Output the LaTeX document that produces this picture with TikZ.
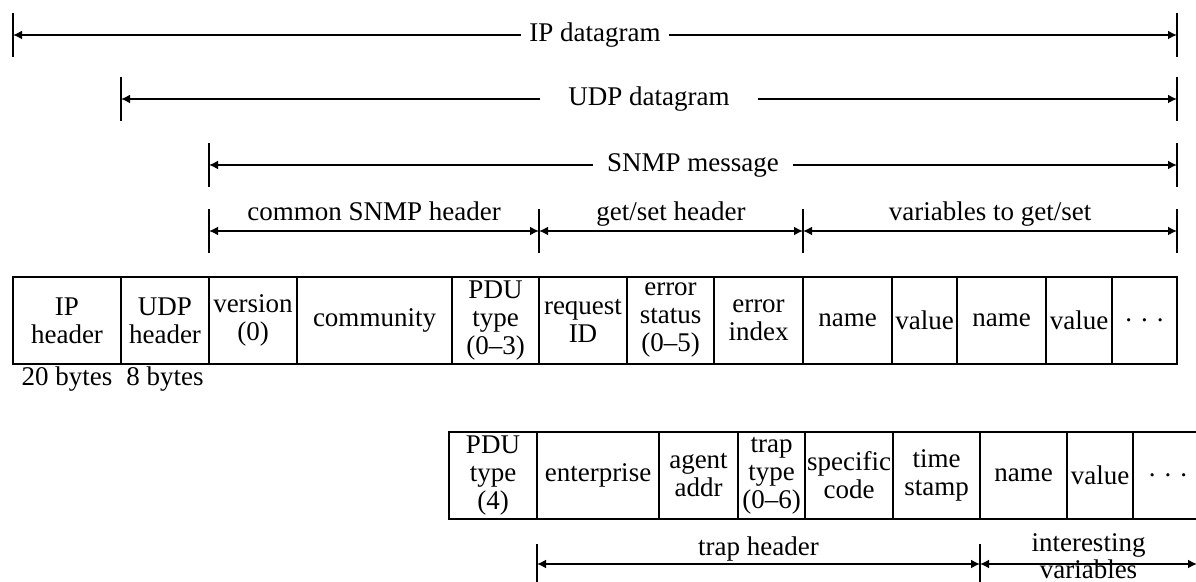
\documentclass[tikz,border=0pt]{standalone}
\usepackage{fontspec}
\setmainfont{Liberation Serif}
\usetikzlibrary{arrows.meta}
\begin{document}
\begin{tikzpicture}[x=0.5pt,y=-0.5pt,
  font=\fontsize{13.5}{14.5}\selectfont,
  field/.style={draw, line width=1pt, inner sep=0pt, outer sep=0pt, align=center,
    anchor=north west, minimum height=43.5pt, font=\fontsize{13.5}{14}\selectfont},
  dimline/.style={line width=0.9pt, {Latex[length=4.5pt,width=4.5pt]}-{Latex[length=4.5pt,width=4.5pt]}},
  endbar/.style={line width=1pt},
  lbl/.style={fill=white, inner xsep=4pt, inner ysep=1pt},
  toplbl/.style={midway, anchor=base, yshift=5pt, inner sep=0pt},
]
\useasboundingbox (0,0) rectangle (1196,582);
\clip (0,0) rectangle (1196,582);

% ---------- get/set PDU row ----------
\node[field, minimum width=54pt] (ip) at (13,277) {IP\\header};
\node[field, minimum width=44pt] (udp) at (ip.north east) {UDP\\header};
\node[field, minimum width=44pt] (ver) at (udp.north east) {version\\(0)};
\node[field, minimum width=77.5pt] (comm) at (ver.north east) {community};
\node[field, minimum width=43.5pt] (pdu) at (comm.north east) {PDU\\type\\(0--3)};
\node[field, minimum width=44pt] (req) at (pdu.north east) {request\\ID};
\node[field, minimum width=43.5pt] (errs) at (req.north east) {error\\status\\(0--5)};
\node[field, minimum width=44.5pt] (erri) at (errs.north east) {error\\index};
\node[field, minimum width=44.5pt] (nameA) at (erri.north east) {name};
\node[field, minimum width=32.5pt] (valA) at (nameA.north east) {value};
\node[field, minimum width=44.5pt] (nameB) at (valA.north east) {name};
\node[field, minimum width=33pt] (valB) at (nameB.north east) {value};
\node[field, minimum width=32.5pt] (dotsA) at (valB.north east) {. . .};

\node[anchor=base] (b20) at (ip.south |- 0,386) {20 bytes};
\node[anchor=base] (b8) at (udp.south |- 0,386) {8 bytes};

% ---------- trap PDU row ----------
\node[field, minimum width=44pt] (pduT) at (449,432) {PDU\\type\\(4)};
\node[field, minimum width=61pt] (ent) at (pduT.north east) {enterprise};
\node[field, minimum width=39.5pt] (agent) at (ent.north east) {agent\\addr};
\node[field, minimum width=33.5pt] (ttype) at (agent.north east) {trap\\type\\(0--6)};
\node[field, minimum width=44pt] (spec) at (ttype.north east) {specific\\code};
\node[field, minimum width=43.5pt] (tstamp) at (spec.north east) {time\\stamp};
\node[field, minimum width=43.5pt] (nameT) at (tstamp.north east) {name};
\node[field, minimum width=33pt] (valT) at (nameT.north east) {value};
\node[field, minimum width=35pt] (dotsT) at (valT.north east) {. . .};

% ---------- dimension lines ----------
\coordinate (ipL) at (13,35);   \coordinate (ipR) at (1177,35);
\coordinate (udpL) at (121,99); \coordinate (udpR) at (1177,99);
\coordinate (snL) at (209,165); \coordinate (snR) at (1177,165);
\coordinate (hA) at (209,231); \coordinate (hB) at (539,231);
\coordinate (hC) at (803,231); \coordinate (hD) at (1177,231);
\coordinate (tA) at (537,564); \coordinate (tB) at (980,564);
\coordinate (tC) at (1197,564);

\foreach \c in {ipL,ipR,udpL,udpR,snL,snR,hA,hB,hC,hD}
  \draw[endbar] ([yshift=11pt]\c) -- ([yshift=-11pt]\c);
\foreach \c in {tA,tB}
  \draw[endbar] ([yshift=10pt]\c) -- ([yshift=-20pt]\c);

\draw[dimline] (ipL) -- node[lbl] {IP datagram} (ipR);
\draw[dimline] (udpL) -- node[lbl, inner xsep=14pt] {UDP datagram} (udpR);
\draw[dimline] (snL) -- node[lbl, inner xsep=7pt] {SNMP message} (snR);

\draw[dimline] (hA) -- node[toplbl] {common SNMP header} (hB);
\draw[dimline] (hB) -- node[toplbl] {get/set header} (hC);
\draw[dimline] (hC) -- node[toplbl] {variables to get/set} (hD);

\draw[dimline] (tA) -- node[midway, anchor=base, yshift=4pt, inner sep=0pt] {trap header} (tB);
\draw[dimline] (tB) -- node[midway, anchor=base, yshift=6pt, inner sep=0pt] {interesting}
                      node[midway, anchor=base, yshift=-7.5pt, inner sep=0pt] {variables} (tC);
\end{tikzpicture}
\end{document}
